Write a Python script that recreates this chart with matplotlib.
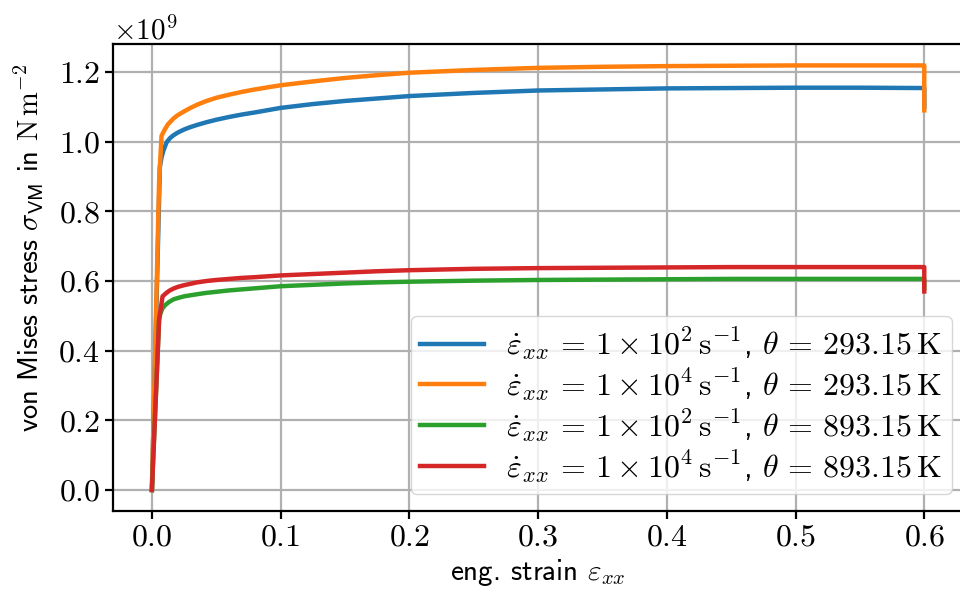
import numpy as np
import matplotlib
matplotlib.use("Agg")
import matplotlib.pyplot as plt
from matplotlib.ticker import ScalarFormatter

plt.rcParams['font.family'] = ['cmss10', 'DejaVu Sans']
plt.rcParams['mathtext.fontset'] = 'cm'
plt.rcParams['axes.formatter.use_mathtext'] = True
plt.rcParams['font.size'] = 21

# strain values and von Mises stress in GPa
strain_orange = [0.0, 0.0056, 0.0075, 0.010, 0.0125, 0.0166, 0.020, 0.025, 0.030, 0.035, 0.0425,
                 0.05, 0.06, 0.07, 0.08, 0.1, 0.125, 0.15, 0.175, 0.2, 0.25, 0.3, 0.35, 0.4,
                 0.45, 0.5, 0.55, 0.6, 0.6]
stress_orange = [0.0, 0.887, 1.017, 1.035, 1.050, 1.066, 1.076, 1.087, 1.097, 1.106, 1.117,
                 1.126, 1.135, 1.143, 1.150, 1.162, 1.173, 1.183, 1.191, 1.198, 1.206, 1.212,
                 1.215, 1.217, 1.218, 1.219, 1.219, 1.219, 1.09]

strain_blue = [0.0, 0.0062, 0.0075, 0.009, 0.0114, 0.014, 0.0166, 0.020, 0.025, 0.030, 0.035,
               0.0425, 0.05, 0.06, 0.07, 0.08, 0.1, 0.125, 0.15, 0.175, 0.2, 0.25, 0.3, 0.35,
               0.4, 0.45, 0.5, 0.55, 0.6, 0.6]
stress_blue = [0.0, 0.928, 0.955, 0.975, 0.998, 1.010, 1.018, 1.026, 1.035, 1.042, 1.048,
               1.056, 1.063, 1.071, 1.078, 1.084, 1.097, 1.108, 1.117, 1.124, 1.131, 1.140,
               1.147, 1.150, 1.153, 1.154, 1.155, 1.155, 1.154, 1.10]

strain_green = [0.0, 0.0056, 0.0065, 0.008, 0.0101, 0.013, 0.0166, 0.020, 0.025, 0.030, 0.035,
                0.0425, 0.05, 0.06, 0.07, 0.08, 0.1, 0.125, 0.15, 0.175, 0.2, 0.25, 0.3, 0.35,
                0.4, 0.45, 0.5, 0.55, 0.6, 0.6]
stress_green = [0.0, 0.49, 0.505, 0.520, 0.530, 0.539, 0.547, 0.551, 0.556, 0.559, 0.562,
                0.566, 0.569, 0.573, 0.576, 0.579, 0.585, 0.589, 0.593, 0.596, 0.598, 0.601,
                0.603, 0.604, 0.605, 0.606, 0.606, 0.606, 0.606, 0.58]

strain_red = [0.0, 0.0056, 0.0083, 0.011, 0.0135, 0.0166, 0.020, 0.025, 0.030, 0.035, 0.0425,
              0.05, 0.06, 0.07, 0.08, 0.1, 0.125, 0.15, 0.175, 0.2, 0.25, 0.3, 0.35, 0.4,
              0.45, 0.5, 0.55, 0.6, 0.6]
stress_red = [0.0, 0.49, 0.556, 0.565, 0.572, 0.578, 0.583, 0.588, 0.592, 0.596, 0.600,
              0.603, 0.606, 0.609, 0.611, 0.616, 0.620, 0.624, 0.628, 0.631, 0.635, 0.637,
              0.638, 0.639, 0.640, 0.640, 0.640, 0.640, 0.57]

labels = [
    r'$\dot{\varepsilon}_{xx}\,=\,1\times10^{2}\,\mathrm{s}^{-1}$, $\theta\,=\,293.15\,\mathrm{K}$',
    r'$\dot{\varepsilon}_{xx}\,=\,1\times10^{4}\,\mathrm{s}^{-1}$, $\theta\,=\,293.15\,\mathrm{K}$',
    r'$\dot{\varepsilon}_{xx}\,=\,1\times10^{2}\,\mathrm{s}^{-1}$, $\theta\,=\,893.15\,\mathrm{K}$',
    r'$\dot{\varepsilon}_{xx}\,=\,1\times10^{4}\,\mathrm{s}^{-1}$, $\theta\,=\,893.15\,\mathrm{K}$',
]

fig = plt.figure(figsize=(9.6, 6.05), dpi=100)
ax = fig.add_axes([0.118, 0.155, 0.885, 0.772])

ax.plot(strain_blue, np.array(stress_blue) * 1e9, c='#1f77b4', lw=3.2, label=labels[0])
ax.plot(strain_orange, np.array(stress_orange) * 1e9, c='#ff7f0e', lw=3.2, label=labels[1])
ax.plot(strain_green, np.array(stress_green) * 1e9, c='#2ca02c', lw=3.2, label=labels[2])
ax.plot(strain_red, np.array(stress_red) * 1e9, c='#d62728', lw=3.2, label=labels[3])

ax.set_xlim(-0.03, 0.63)
ax.set_ylim(-0.061e9, 1.280e9)
ax.set_xticks([0, 0.1, 0.2, 0.3, 0.4, 0.5, 0.6])
ax.set_yticks(np.arange(0, 1.3e9, 0.2e9))
fmt = ScalarFormatter(useMathText=True)
ax.yaxis.set_major_formatter(fmt)
ax.grid(True, color='#b0b0b0', lw=1.6)
ax.set_axisbelow(True)
for s in ax.spines.values():
    s.set_linewidth(1.6)
ax.tick_params(length=6, width=1.6, labelsize=23)
for t in ax.get_xticklabels() + ax.get_yticklabels():
    t.set_fontfamily('cmr10')
ax.yaxis.get_offset_text().set_fontfamily('cmr10')
ax.yaxis.get_offset_text().set_fontsize(21)

ax.set_xlabel(r'eng. strain $\varepsilon_{xx}$')
ax.set_ylabel(r'von Mises stress $\sigma_{\mathsf{VM}}$ in $\mathrm{N}\,\mathrm{m}^{-2}$', fontsize=20.5)
ax.yaxis.set_label_coords(-0.079, 0.563)
ax.legend(loc='lower right', bbox_to_anchor=(0.987, 0.036), borderaxespad=0, fontsize=23,
          handlelength=2.0, handletextpad=0.7, labelspacing=0.12, borderpad=0.3)

fig.savefig('out.png', dpi=100)
